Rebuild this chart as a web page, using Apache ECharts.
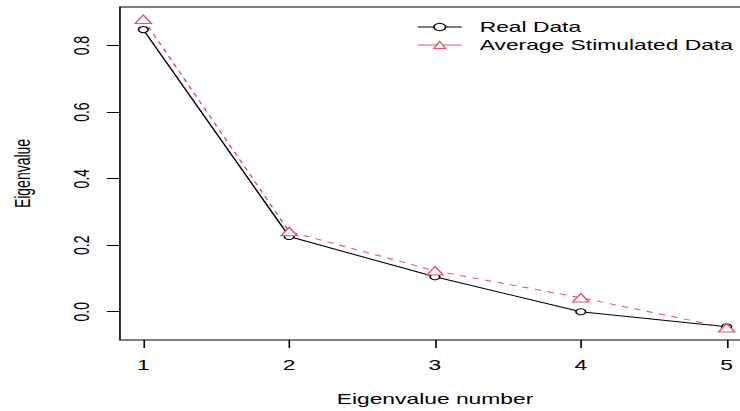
<!DOCTYPE html>
<html><head><meta charset="utf-8">
<script src="https://cdn.jsdelivr.net/npm/echarts@6/dist/echarts.min.js"></script>
<style>
html,body{margin:0;padding:0;overflow:hidden;width:740px;height:411px;background:#fff}
#wrap{width:740px;height:411px;overflow:hidden;position:relative}
#chart{width:470px;height:411px;transform:scaleX(1.63);transform-origin:0 0;position:absolute;left:0;top:0}
</style></head>
<body><div id="wrap"><div id="chart"></div></div>
<script>
const eigenNumbers = [1, 2, 3, 4, 5];
const realData = [0.848, 0.226, 0.105, 0.0, -0.045];
const simData = [0.879, 0.241, 0.123, 0.042, -0.048];
const xTicks = [1, 2, 3, 4, 5];
const yTicks = [0, 0.2, 0.4, 0.6, 0.8];
const seriesNames = ['Real Data', 'Average Stimulated Data'];

const FONT = '"Liberation Sans", Arial, sans-serif';
const RED = '#DF536B';
const chart = echarts.init(document.getElementById('chart'), null, {renderer: 'svg'});
chart.setOption({
  animation: false,
  backgroundColor: '#fff',
  textStyle: {fontFamily: FONT},
  grid: {left: 73.6, right: 9.9, top: 7, bottom: 71, show: true, borderColor: '#000', borderWidth: 1,
    containLabel: false, outerBoundsMode: 'none'},
  legend: {
    orient: 'vertical', left: 250.8, top: 15, itemWidth: 27, itemHeight: 9, itemGap: 4,
    lineStyle: {width: 1, type: 'solid'},
    itemStyle: {borderWidth: 1},
    textStyle: {fontSize: 14, color: '#000', fontFamily: FONT, padding: [0, 0, 0, 6]},
    data: seriesNames
  },
  xAxis: {
    type: 'value', min: 0.84, max: 5.16,
    name: 'Eigenvalue number', nameLocation: 'middle', nameGap: 52,
    nameTextStyle: {fontSize: 14, color: '#000', fontFamily: FONT},
    axisLine: {show: false, onZero: false},
    axisTick: {show: true, length: 8, customValues: xTicks, lineStyle: {color: '#000'}},
    axisLabel: {customValues: xTicks, margin: 18, fontSize: 14, color: '#000', fontFamily: FONT},
    splitLine: {show: false}
  },
  yAxis: {
    type: 'value', min: -0.085, max: 0.916,
    name: 'Eigenvalue', nameLocation: 'middle', nameGap: 53, nameRotate: 90,
    nameTextStyle: {fontSize: 14, color: '#000', fontFamily: FONT},
    axisLine: {show: false, onZero: false},
    axisTick: {show: true, length: 8, customValues: yTicks, lineStyle: {color: '#000'}},
    axisLabel: {customValues: yTicks, margin: 17, rotate: 90, fontSize: 14, color: '#000', fontFamily: FONT,
      formatter: v => Number(v).toFixed(1)},
    splitLine: {show: false}
  },
  series: [
    {
      name: seriesNames[0], type: 'line',
      data: eigenNumbers.map((x, i) => [x, realData[i]]),
      symbol: 'circle', symbolSize: 6, showSymbol: true,
      lineStyle: {color: '#000', width: 1},
      itemStyle: {color: '#fff', borderColor: '#000', borderWidth: 1}
    },
    {
      name: seriesNames[1], type: 'line',
      data: eigenNumbers.map((x, i) => [x, simData[i]]),
      symbol: 'triangle', symbolSize: [10, 8.5], showSymbol: true,
      lineStyle: {color: RED, width: 1, type: [4, 4]},
      itemStyle: {color: '#fff', borderColor: RED, borderWidth: 1}
    }
  ]
});
</script></body></html>
